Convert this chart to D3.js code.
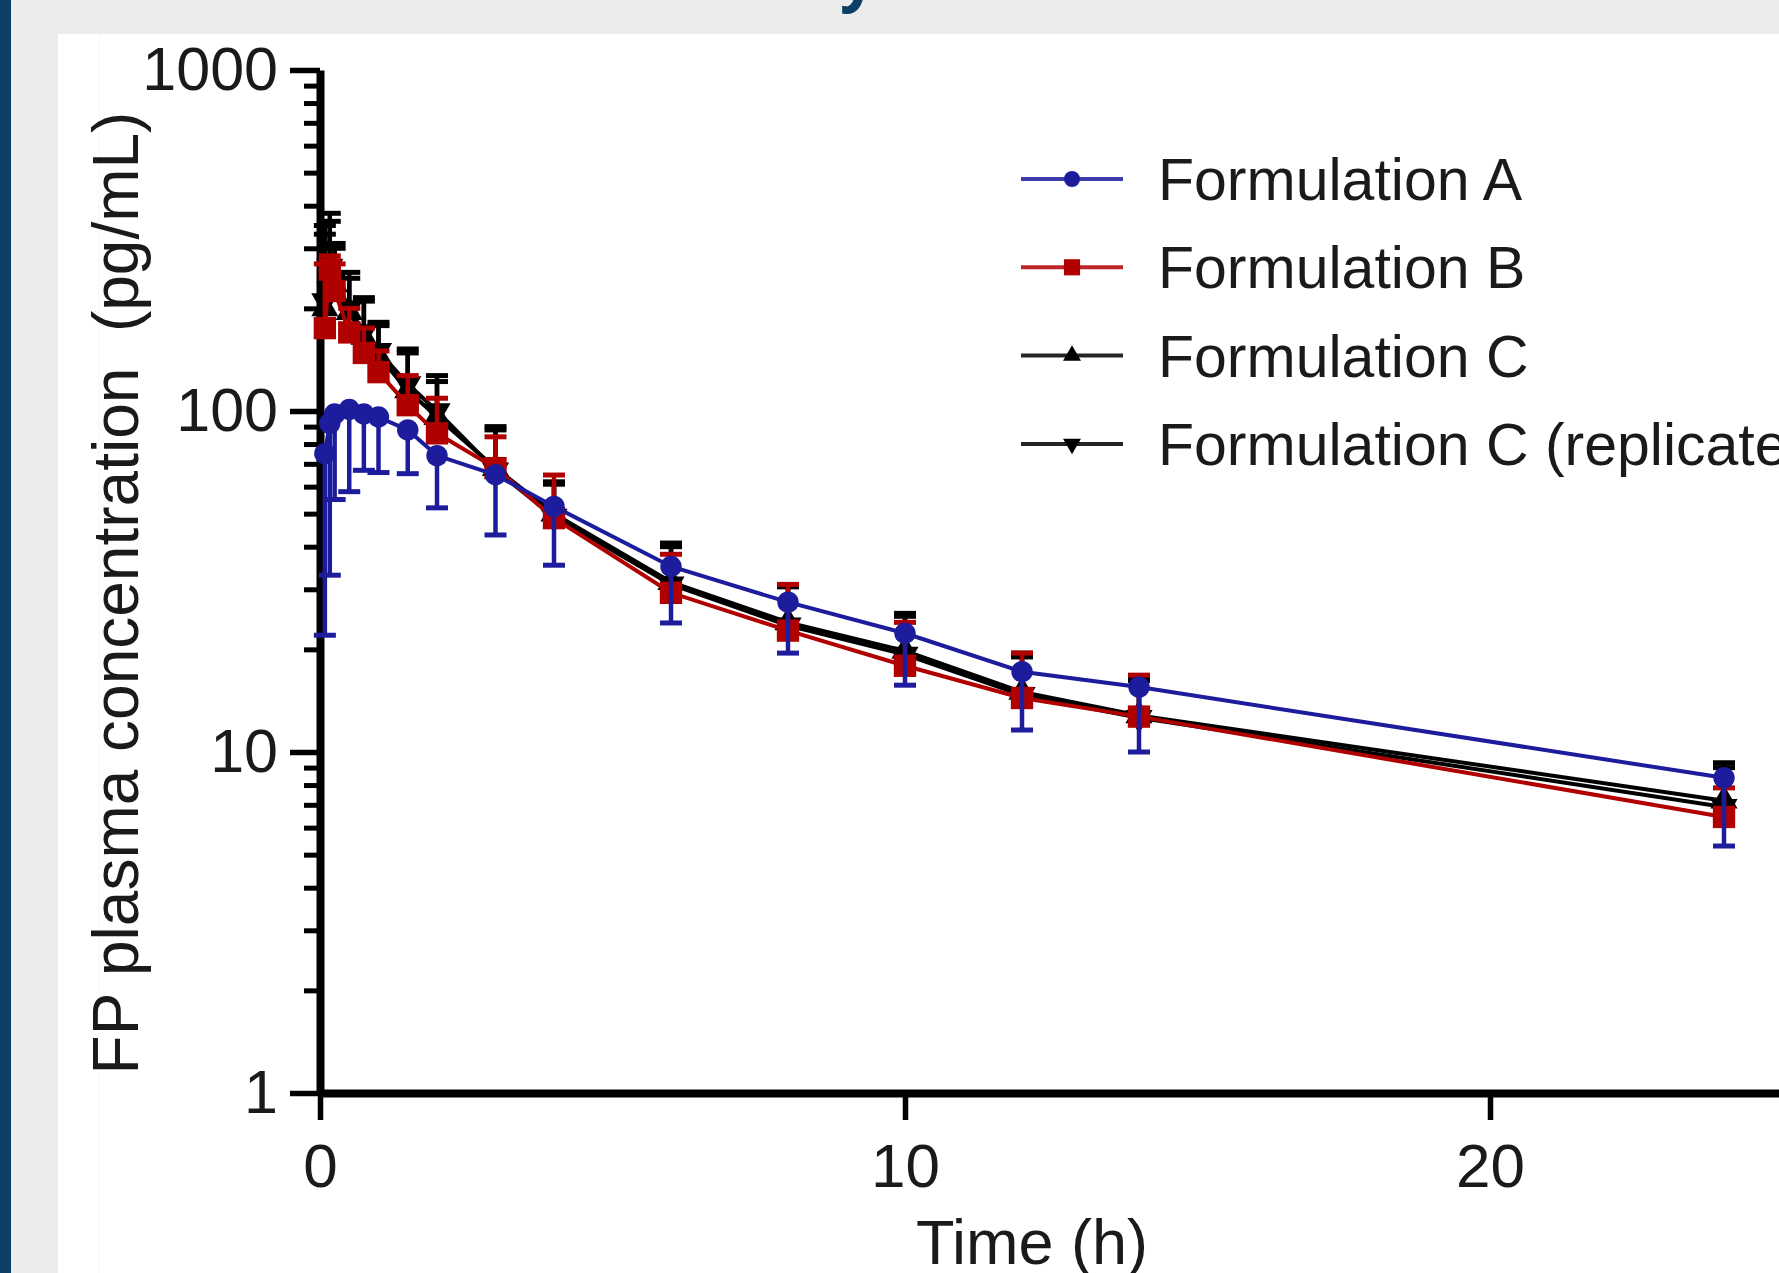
<!DOCTYPE html>
<html>
<head>
<meta charset="utf-8">
<script src="https://cdn.jsdelivr.net/npm/d3@7"></script>
<style>
  html, body { margin: 0; padding: 0; background: #ececec; }
  svg { display: block; }
  text { font-family: "Liberation Sans", Arial, sans-serif; fill: #1a1a1a; }
</style>
</head>
<body>
<svg id="chart" width="1779" height="1273"></svg>
<script>
(function () {
  // sampling times (h)
  const times = [0.083, 0.167, 0.25, 0.5, 0.75, 1, 1.5, 2, 3, 4, 6, 8, 10, 12, 14, 24];

  // mean FP plasma concentration (pg/mL) and SD
  const meanA = [75, 92, 98, 101, 98, 96, 88, 74, 65, 52.5, 35, 27.5, 22.3, 17.2, 15.5, 8.4];
  const sdA = [53, 59, 43, 43, 31, 30, 22.5, 22, 21.7, 17.2, 11.1, 8, 6.6, 5.6, 5.5, 3.1];

  const meanB = [175, 260, 225, 170, 148, 130, 104, 86, 68, 48.5, 29.3, 22.7, 17.9, 14.4, 12.7, 6.45];
  const sdB = [95, 25, 45, 30, 27, 20, 23, 23, 16, 16.4, 8.7, 8.3, 6.1, 5.1, 4.1, 1.4];

  const meanC = [200, 250, 235, 195, 165, 145, 115, 96, 68, 50, 31.5, 24, 19.8, 15, 12.8, 7.2];
  const sdC = [130, 110, 65, 50, 45, 33, 33, 26, 22, 12, 9.5, 7, 5.7, 4.5, 3.7, 2.1];

  const meanCrep = [210, 265, 245, 200, 170, 150, 120, 100, 67, 49, 31, 23.5, 19.3, 14.7, 12.6, 6.9];
  const sdCrep = [140, 115, 65, 55, 45, 32, 32, 27, 21, 12, 9, 7, 5.7, 4.3, 3.6, 2.1];

  const seriesNames = ["Formulation A", "Formulation B", "Formulation C", "Formulation C (replicate)"];
  const xTicks = [0, 10, 20];
  const yTicks = [1, 10, 100, 1000];

  const W = 1779, H = 1273;
  const svg = d3.select("#chart").attr("viewBox", `0 0 ${W} ${H}`);

  // page frame
  svg.append("rect").attr("x", 0).attr("y", 0).attr("width", 11).attr("height", H).attr("fill", "#0b3f66");
  svg.append("rect").attr("x", 58).attr("y", 34).attr("width", W - 58).attr("height", H - 34).attr("fill", "#ffffff");
  svg.append("line").attr("x1", 99).attr("x2", 99).attr("y1", 34).attr("y2", H)
    .attr("stroke", "#f6f6f6").attr("stroke-width", 1);

  // cut-off heading above the figure
  svg.append("text")
    .attr("x", 840)
    .attr("y", -2)
    .style("font-family", "'Open Sans', sans-serif")
    .style("font-weight", "700")
    .style("font-size", "64px")
    .style("fill", "#0b3f66")
    .text("y");

  const x = d3.scaleLinear().domain([0, 25]).range([320, 320 + 58.5 * 25]);
  const y = d3.scaleLog().domain([1, 1000]).range([1093, 70]);

  const series = [
    { name: seriesNames[3], mean: meanCrep, sd: sdCrep, color: "#000000", symbol: "triDown", dir: 1 },
    { name: seriesNames[2], mean: meanC, sd: sdC, color: "#000000", symbol: "triUp", dir: 1 },
    { name: seriesNames[1], mean: meanB, sd: sdB, color: "#b00000", symbol: "square", dir: 1 },
    { name: seriesNames[0], mean: meanA, sd: sdA, color: "#1c1c9c", symbol: "circle", dir: -1 }
  ];

  function symbolPath(kind, size) {
    if (kind === "circle") return d3.symbol(d3.symbolCircle, size)();
    if (kind === "square") return d3.symbol(d3.symbolSquare, size)();
    return d3.symbol(d3.symbolTriangle, size)();
  }
  function symbolTransform(kind, px, py) {
    return kind === "triDown" ? `translate(${px},${py}) rotate(180)` : `translate(${px},${py})`;
  }
  const markerSize = { circle: 360, square: 500, triUp: 320, triDown: 320 };

  // Y axis (major + minor ticks)
  const minor = y.ticks().filter(v => !yTicks.includes(v));
  svg.append("g")
    .attr("transform", `translate(${x(0)},0)`)
    .call(d3.axisLeft(y).tickValues(minor).tickSize(16).tickFormat(""))
    .call(g => g.select(".domain").remove())
    .selectAll("line").attr("stroke", "#000").attr("stroke-width", 5);

  const yAxis = svg.append("g")
    .attr("transform", `translate(${x(0)},0)`)
    .call(d3.axisLeft(y).tickValues(yTicks).tickSize(30).tickSizeOuter(0).tickPadding(12)
      .tickFormat(d3.format("d")));
  yAxis.select(".domain").attr("stroke", "#000").attr("stroke-width", 8);
  yAxis.selectAll(".tick line").attr("stroke", "#000").attr("stroke-width", 5.5);
  yAxis.selectAll("text").style("font-size", "61px").style("font-family", "'Liberation Sans', Arial, sans-serif").attr("fill", "#1a1a1a");

  // X axis
  const xAxis = svg.append("g")
    .attr("transform", `translate(0,${y(1)})`)
    .call(d3.axisBottom(x).tickValues(xTicks).tickSize(27).tickSizeOuter(0).tickPadding(23));
  xAxis.select(".domain").attr("stroke", "#000").attr("stroke-width", 8);
  xAxis.selectAll(".tick line").attr("stroke", "#000").attr("stroke-width", 5.5);
  xAxis.selectAll("text").style("font-size", "62px").style("font-family", "'Liberation Sans', Arial, sans-serif").attr("fill", "#1a1a1a");

  // axis titles
  svg.append("text")
    .attr("x", 1032)
    .attr("y", 1264)
    .attr("text-anchor", "middle")
    .style("font-size", "63px")
    .text("Time (h)");

  svg.append("text")
    .attr("transform", "translate(138,593) rotate(-90)")
    .attr("text-anchor", "middle")
    .style("font-size", "64px")
    .style("white-space", "pre")
    .text("FP plasma concentration  (pg/mL)");

  // series: line, error bars (A below only, others above only), markers
  const line = d3.line().x(d => x(d.t)).y(d => y(d.v));

  series.forEach(s => {
    const pts = times.map((t, i) => ({ t, v: s.mean[i], e: s.mean[i] + s.dir * s.sd[i] }));
    const g = svg.append("g");

    g.append("path")
      .datum(pts)
      .attr("d", line)
      .attr("fill", "none")
      .attr("stroke", s.color)
      .attr("stroke-width", 4);

    g.selectAll("line.err")
      .data(pts)
      .enter()
      .append("line")
      .attr("class", "err")
      .attr("x1", d => x(d.t))
      .attr("x2", d => x(d.t))
      .attr("y1", d => y(d.v))
      .attr("y2", d => y(d.e))
      .attr("stroke", s.color)
      .attr("stroke-width", 4.5);

    g.selectAll("line.cap")
      .data(pts)
      .enter()
      .append("line")
      .attr("class", "cap")
      .attr("x1", d => x(d.t) - 11)
      .attr("x2", d => x(d.t) + 11)
      .attr("y1", d => y(d.e))
      .attr("y2", d => y(d.e))
      .attr("stroke", s.color)
      .attr("stroke-width", 5);

    g.selectAll("path.mk")
      .data(pts)
      .enter()
      .append("path")
      .attr("class", "mk")
      .attr("d", symbolPath(s.symbol, markerSize[s.symbol]))
      .attr("transform", d => symbolTransform(s.symbol, x(d.t), y(d.v)))
      .attr("fill", s.color);
  });

  // legend
  const legendOrder = [series[3], series[2], series[1], series[0]];
  const legend = svg.append("g").attr("transform", "translate(1021,179)");
  const legendSize = { circle: 200, square: 260, triUp: 140, triDown: 140 };

  legendOrder.forEach((s, i) => {
    const row = legend.append("g").attr("transform", `translate(0,${i * 88.3})`);
    row.append("line")
      .attr("x1", 0).attr("x2", 102).attr("y1", 0).attr("y2", 0)
      .attr("stroke", s.color)
      .attr("stroke-width", 4)
      .attr("opacity", 0.85);
    row.append("path")
      .attr("d", symbolPath(s.symbol, legendSize[s.symbol]))
      .attr("transform", symbolTransform(s.symbol, 51, 0))
      .attr("fill", s.color);
    row.append("text")
      .attr("x", 137)
      .attr("y", 21)
      .style("font-size", "59px")
      .text(s.name);
  });
})();
</script>
</body>
</html>
